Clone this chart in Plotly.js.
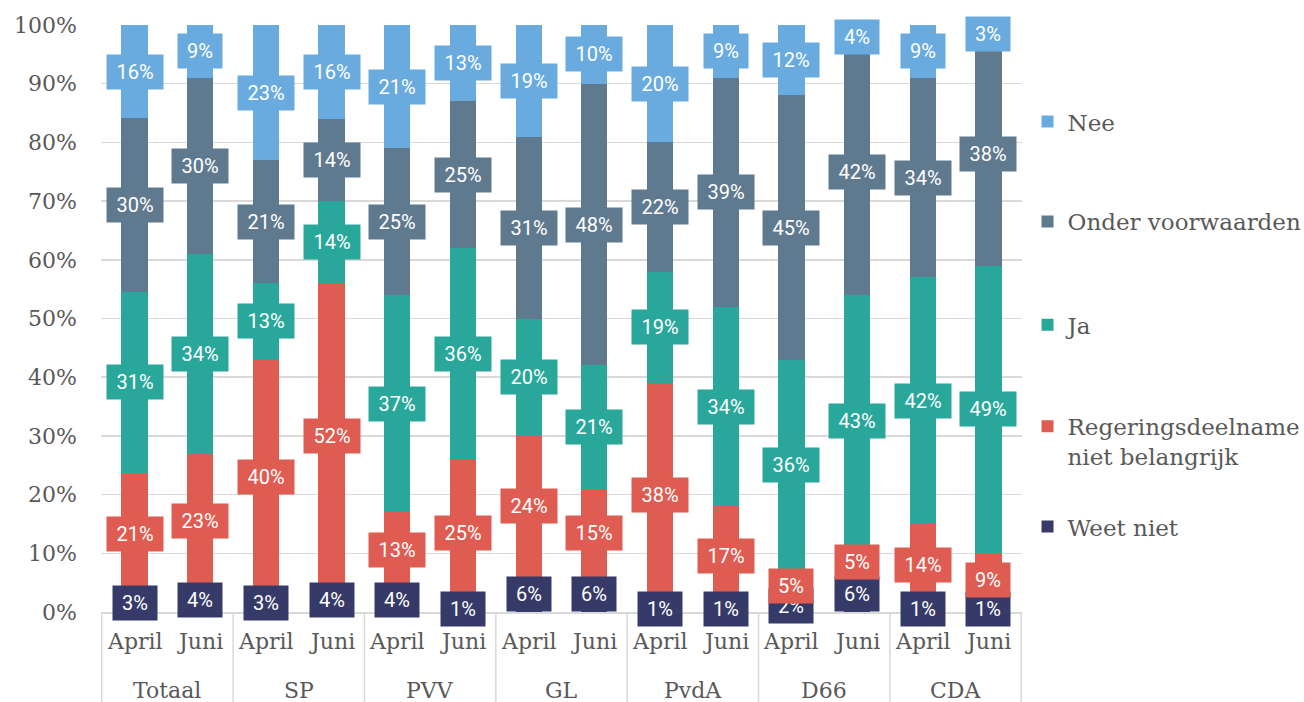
<!DOCTYPE html>
<html>
<head>
<meta charset="utf-8">
<script src="https://cdn.plot.ly/plotly-3.0.1.min.js"></script>
<style>html,body{margin:0;padding:0;background:#fff;}#chart{width:1304px;height:702px;}</style>
</head>
<body>
<div id="chart"></div>
<script>
const groups = ['Totaal', 'SP', 'PVV', 'GL', 'PvdA', 'D66', 'CDA'];
const periods = ['April', 'Juni'];

const seriesNames = ['Weet niet', 'Regeringsdeelname<br>niet belangrijk', 'Ja', 'Onder voorwaarden', 'Nee'];
const seriesColors = ['#363A68', '#DE5C51', '#2AA79B', '#5F7A8F', '#69ABDF'];

// order of bars: Totaal April, Totaal Juni, SP April, SP Juni, ...
const weetNiet   = [3, 4, 3, 4, 4, 1, 6, 6, 1, 1, 2, 6, 1, 1];
const regering   = [21, 23, 40, 52, 13, 25, 24, 15, 38, 17, 5, 5, 14, 9];
const ja         = [31, 34, 13, 14, 37, 36, 20, 21, 19, 34, 36, 43, 42, 49];
const onderVoorw = [30, 30, 21, 14, 25, 25, 31, 48, 22, 39, 45, 42, 34, 38];
const nee        = [16, 9, 23, 16, 21, 13, 19, 10, 20, 9, 12, 4, 9, 3];

const seriesValues = [weetNiet, regering, ja, onderVoorw, nee];

const xGroup = [], xPeriod = [];
groups.forEach(g => periods.forEach(p => { xGroup.push(g); xPeriod.push(p); }));

const serifFont = 'DejaVu Serif, serif';
const tickColor = '#595959';
const gridColor = '#D9D9D9';

// legend placement (top of each entry, paper coords) - one legend per series
const legendY = [0.182, 0.353, 0.526, 0.702, 0.872];

const traces = seriesValues.map((vals, s) => ({
  type: 'bar',
  name: seriesNames[s],
  x: [xGroup, xPeriod],
  y: vals,
  marker: { color: seriesColors[s], line: { width: 0 } },
  legend: s === 0 ? 'legend' : 'legend' + (s + 1),
  hoverinfo: 'name+y',
  textposition: 'none'
}));

const annotations = [];
const shapes = [];
const nBars = xGroup.length;
const totals = [];
for (let i = 0; i < nBars; i++) {
  let t = 0;
  seriesValues.forEach(v => t += v[i]);
  totals.push(t);
}
const cum = new Array(nBars).fill(0);
seriesValues.forEach((vals, s) => {
  for (let i = 0; i < nBars; i++) {
    const pct = vals[i] / totals[i] * 100;
    const txt = vals[i] + '%';
    annotations.push({
      x: i, y: cum[i] + pct / 2, xref: 'x', yref: 'y',
      text: txt, showarrow: false,
      font: { family: 'Roboto, sans-serif', size: 20, color: '#ffffff' },
      bgcolor: seriesColors[s],
      borderpad: 6,
      width: 12 * txt.length + 8,
      height: 22,
      align: 'center', valign: 'middle'
    });
    cum[i] += pct;
  }
});

// category labels (two levels) and dividers
for (let i = 0; i < nBars; i++) {
  annotations.push({
    x: i, y: -0.051, xref: 'x', yref: 'paper', yanchor: 'middle',
    text: xPeriod[i], showarrow: false,
    font: { family: serifFont, size: 22, color: tickColor }
  });
}
groups.forEach((g, gi) => {
  const pos = gi * periods.length + (periods.length - 1) / 2;
  annotations.push({
    x: pos, y: -0.133, xref: 'x', yref: 'paper', yanchor: 'middle',
    text: g, showarrow: false,
    font: { family: serifFont, size: 22, color: tickColor }
  });
});
for (let gi = 0; gi <= groups.length; gi++) {
  const b = gi * periods.length - 0.5;
  shapes.push({
    type: 'line', xref: 'x', yref: 'paper',
    x0: b, x1: b, y0: 0, y1: -0.16,
    line: { color: gridColor, width: 1.5 }
  });
}

const legendBase = {
  x: 1.006, xanchor: 'left', yanchor: 'top',
  valign: 'top',
  font: { family: serifFont, size: 23, color: tickColor },
  bgcolor: 'rgba(0,0,0,0)'
};

const layout = {
  width: 1304, height: 702,
  margin: { l: 101, r: 282, t: 25, b: 90, autoexpand: false },
  paper_bgcolor: '#ffffff', plot_bgcolor: '#ffffff',
  barmode: 'stack',
  barnorm: 'percent',
  bargap: 0.6,
  showlegend: true,
  legend: Object.assign({ y: legendY[0] }, legendBase),
  legend2: Object.assign({ y: legendY[1] }, legendBase),
  legend3: Object.assign({ y: legendY[2] }, legendBase),
  legend4: Object.assign({ y: legendY[3] }, legendBase),
  legend5: Object.assign({ y: legendY[4] }, legendBase),
  xaxis: {
    type: 'multicategory',
    showline: true, linecolor: gridColor, linewidth: 1.5,
    showticklabels: false, showdividers: false,
    showgrid: false, zeroline: false, automargin: false
  },
  yaxis: {
    range: [0, 100], dtick: 10, ticksuffix: '%',
    showgrid: true, gridcolor: gridColor, gridwidth: 1.5,
    zeroline: false, showline: false,
    tickfont: { family: serifFont, size: 22, color: tickColor },
    ticks: '', ticklabelstandoff: 23, automargin: false
  },
  annotations: annotations,
  shapes: shapes,
  font: { family: serifFont, color: tickColor }
};

Plotly.newPlot('chart', traces, layout, { displayModeBar: false, staticPlot: true });
</script>
</body>
</html>
